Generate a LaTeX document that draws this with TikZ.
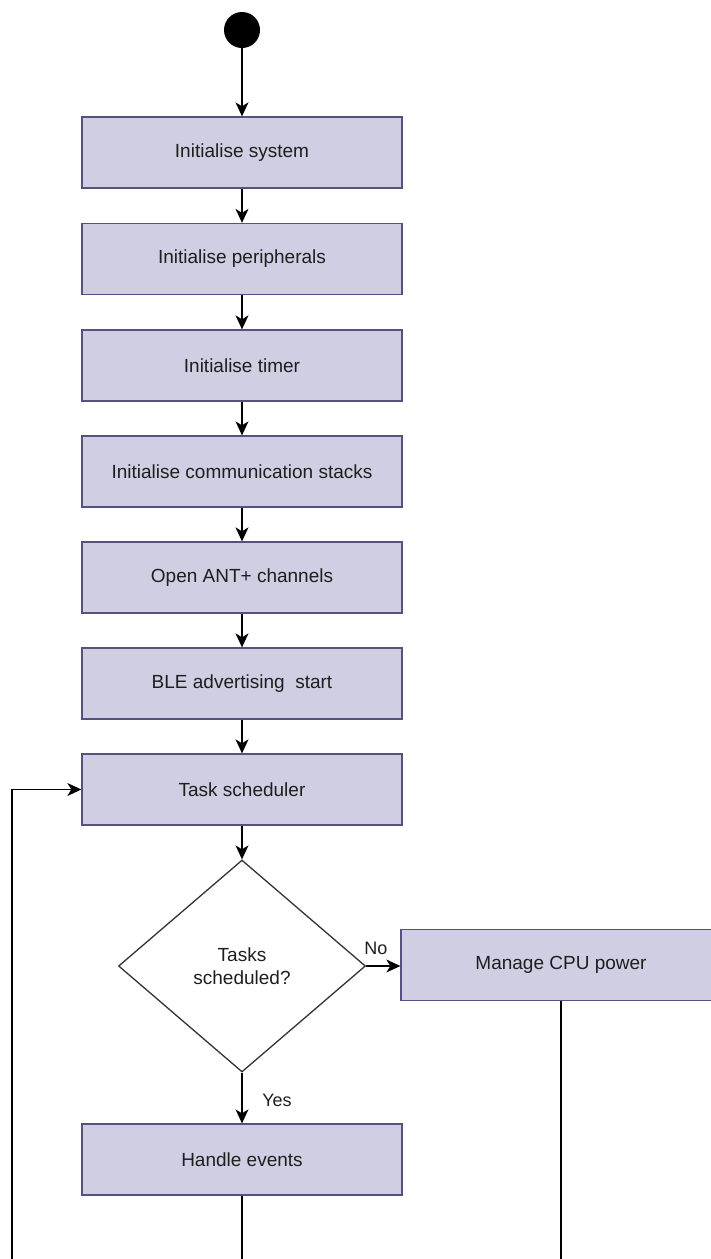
\documentclass[tikz,border=0pt]{standalone}
\usepackage{fontspec}
\setmainfont{Liberation Sans}
\usetikzlibrary{shapes.geometric,arrows.meta}
\definecolor{boxfill}{HTML}{D0CEE2}
\definecolor{boxline}{HTML}{56517E}
\definecolor{txt}{HTML}{1E1E1E}
\begin{document}
\begin{tikzpicture}[x=1pt,y=-1pt,
  every node/.style={font=\fontsize{19}{23}\selectfont, text=txt},
  stepbox/.style={rectangle, draw=boxline, fill=boxfill, line width=1.3pt,
    minimum width=320pt, minimum height=71pt, inner sep=0pt},
  decision/.style={diamond, draw=black!80, fill=white, line width=1.3pt,
    minimum width=247pt, minimum height=212pt, inner sep=0pt, align=center},
  startdot/.style={circle, fill=black, minimum size=36pt, inner sep=0pt},
  flow/.style={line width=1.3pt, -{Stealth[length=14pt,width=13pt,inset=4pt]}},
  plain/.style={line width=1.3pt},
  lbl/.style={font=\fontsize{18}{22}\selectfont, inner sep=0pt}]
\useasboundingbox (0,0) rectangle (710,1259);

% start point
\node[startdot] (start) at (242,30) {};

% initialisation sequence
\node[stepbox] (sys)   at (242,152.5) {Initialise system};
\node[stepbox] (per)   at (242,259)   {Initialise peripherals};
\node[stepbox] (tim)   at (242,365.5) {Initialise timer};
\node[stepbox] (com)   at (242,471.5) {Initialise communication stacks};
\node[stepbox] (ant)   at (242,577.5) {Open ANT+ channels};
\node[stepbox] (ble)   at (242,683.5) {BLE advertising\ \ start};
\node[stepbox] (sched) at (242,789.5) {Task scheduler};

% main loop
\node[decision] (dec) at (242,966) {Tasks\\scheduled?};
\node[stepbox] (cpu)  at (561,965) {Manage CPU power};
\node[stepbox] (evt)  at (242,1159.5) {Handle events};

% open ends at the lower border
\coordinate (loopb) at (12,1259);
\coordinate (evtb)  at (242,1259);
\coordinate (cpub)  at (561,1259);

\draw[flow] (start) -- (sys);
\draw[flow] (sys) -- (per);
\draw[flow] (per) -- (tim);
\draw[flow] (tim) -- (com);
\draw[flow] (com) -- (ant);
\draw[flow] (ant) -- (ble);
\draw[flow] (ble) -- (sched);
\draw[flow] (sched) -- (dec);
\draw[flow] (dec.east) -- (cpu.west |- dec.east);
\draw[flow] (dec.south) -- (evt);
\draw[flow] (loopb) |- (sched.west);
\draw[plain] (evt.south) -- (evtb);
\draw[plain] (cpu.south) -- (cpub);

% branch labels
\node[lbl] (no)  at (376,948) {No};
\node[lbl] (yes) at (277,1100) {Yes};
\end{tikzpicture}
\end{document}
